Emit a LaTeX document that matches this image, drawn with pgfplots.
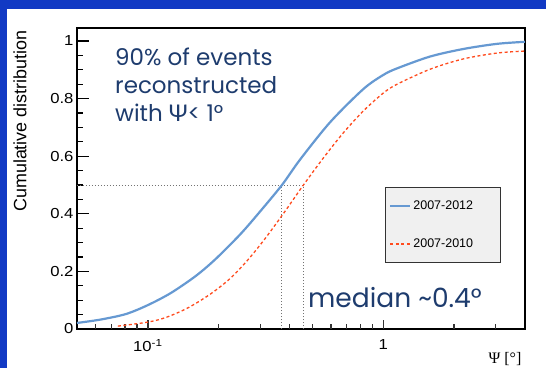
\documentclass[border=0pt]{standalone}
\usepackage{fontspec}
\usepackage{pgfplots}
\pgfplotsset{compat=1.18}
\setmainfont{Liberation Sans}
\newfontfamily\rootfont[FakeStretch=1.15]{Liberation Sans}
\newfontfamily\slidefont{Poppins}
\newfontfamily\greekfont{Lato}
\newfontfamily\seriffont{Liberation Serif}

\definecolor{bandblue}{RGB}{18,58,196}
\definecolor{curveblue}{RGB}{102,153,210}
\definecolor{curvered}{RGB}{255,75,30}
\definecolor{notenavy}{RGB}{30,60,110}
\definecolor{legendfill}{RGB}{240,240,240}

\begin{document}
\begin{tikzpicture}
\path[use as bounding box] (0pt,0pt) rectangle (546pt,368pt);
\fill[white] (0pt,0pt) rectangle (546pt,368pt);
\fill[bandblue] (0pt,359pt) rectangle (546pt,368pt);
\fill[bandblue] (0pt,0pt) rectangle (7pt,368pt);
\begin{axis}[
  at={(77pt,39pt)}, anchor=south west,
  scale only axis, width=448pt, height=301pt,
  xmode=log, xmin=0.05, xmax=4, ymin=0, ymax=1.045,
  clip=false,
  tick pos=left,
  ytick={0,0.2,0.4,0.6,0.8,1},
  yticklabels={0,0.2,0.4,0.6,0.8,1},
  xtick={0.1,1},
  xticklabels={10\textsuperscript{-1},1},
  minor xtick={},
  tick style={draw=none},
  axis line style={line width=1.6pt},
  ticklabel style={font=\rootfont\fontsize{14.5}{16}\selectfont},
  xticklabel style={yshift=-7pt},
  ylabel={Cumulative distribution},
  ylabel style={at={(axis description cs:-0.127,1.003)}, anchor=east,
    font=\fontsize{17.9}{20}\selectfont},
  xlabel={Ψ [°]},
  xlabel style={at={(axis description cs:1,-0.113)}, anchor=base east,
    font=\seriffont\fontsize{16}{18}\selectfont},
  legend style={at={(axis description cs:0.687,0.471)}, anchor=north west,
    draw=black!80, line width=0.8pt, fill=legendfill,
    font=\fontsize{12.5}{14}\selectfont,
    inner xsep=4pt, inner ysep=11pt, row sep=24pt, cells={anchor=west}},
  legend image code/.code={\draw[#1] (0pt,0pt) -- (20pt,0pt);},
]
% inward tick marks on the left edge (major and minor)
\pgfplotsinvokeforeach{0.2,0.4,0.6,0.8,1}{
  \addplot[forget plot, black, line width=1.3pt] coordinates {(0.05,#1) (0.0562,#1)};}
\pgfplotsinvokeforeach{0.05,0.1,0.15,0.25,0.3,0.35,0.45,0.5,0.55,0.65,0.7,0.75,0.85,0.9,0.95}{
  \addplot[forget plot, black, line width=1.3pt] coordinates {(0.05,#1) (0.0530,#1)};}
% inward tick marks on the bottom edge (decades and subdivisions)
\pgfplotsinvokeforeach{0.1,1}{
  \addplot[forget plot, black!80, line width=1.3pt] coordinates {(#1,0) (#1,0.031)};}
\pgfplotsinvokeforeach{0.06,0.07,0.08,0.09,0.2,0.3,0.4,0.5,0.6,0.7,0.8,0.9,2,3}{
  \addplot[forget plot, black!80, line width=1.3pt] coordinates {(#1,0) (#1,0.0174)};}
% median guide lines
\addplot[forget plot, black!55, line width=0.8pt, dash pattern=on 1pt off 2pt]
  coordinates {(0.05,0.5) (0.458,0.5)};
\addplot[forget plot, black!55, line width=0.8pt, dash pattern=on 1pt off 2pt]
  coordinates {(0.371,0) (0.371,0.5)};
\addplot[forget plot, black!55, line width=0.8pt, dash pattern=on 1pt off 2pt]
  coordinates {(0.458,0) (0.458,0.5)};
% 2007-2012 sample
\addplot[curveblue, line width=2.2pt, smooth] coordinates {
  (0.0500,0.021) (0.0632,0.033) (0.0807,0.052) (0.100,0.083)
  (0.1252,0.125) (0.1597,0.184) (0.1941,0.243) (0.2477,0.330)
  (0.3012,0.410) (0.3713,0.500) (0.4449,0.590) (0.5963,0.719)
  (0.8229,0.833) (1.000,0.882) (1.146,0.905) (1.582,0.946)
  (2.183,0.972) (3.041,0.990) (3.997,0.997)};
\addlegendentry{2007-2012\hspace*{21pt}}
% 2007-2010 sample
\addplot[curvered, line width=1.3pt, dash pattern=on 3pt off 2.5pt, smooth] coordinates {
  (0.0746,0.010) (0.100,0.024) (0.1192,0.040) (0.1477,0.073)
  (0.1849,0.122) (0.2248,0.177) (0.2679,0.243) (0.3162,0.316)
  (0.3806,0.406) (0.4581,0.500) (0.5569,0.594) (0.6767,0.681)
  (0.8229,0.757) (1.000,0.819) (1.146,0.850) (1.582,0.902)
  (2.183,0.9375) (3.041,0.958) (3.997,0.965)};
\addlegendentry{2007-2010\hspace*{21pt}}
% annotations
\begin{scope}[every node/.style={inner sep=0pt, text=notenavy}]
\node[anchor=base west, font=\slidefont\fontsize{23}{26}\selectfont]
  at (rel axis cs:0.0848,0.877) {90\% of events};
\node[anchor=base west, font=\slidefont\fontsize{23}{26}\selectfont]
  at (rel axis cs:0.0848,0.781) {reconstructed};
\node[anchor=base west, font=\slidefont\fontsize{23}{26}\selectfont]
  at (rel axis cs:0.0848,0.688) {with {\greekfont Ψ}< 1°};
\node[anchor=base west, font=\slidefont\fontsize{26.5}{30}\selectfont]
  at (rel axis cs:0.5156,0.0698) {median \textasciitilde0.4°};
\end{scope}
\end{axis}
\end{tikzpicture}
\end{document}
